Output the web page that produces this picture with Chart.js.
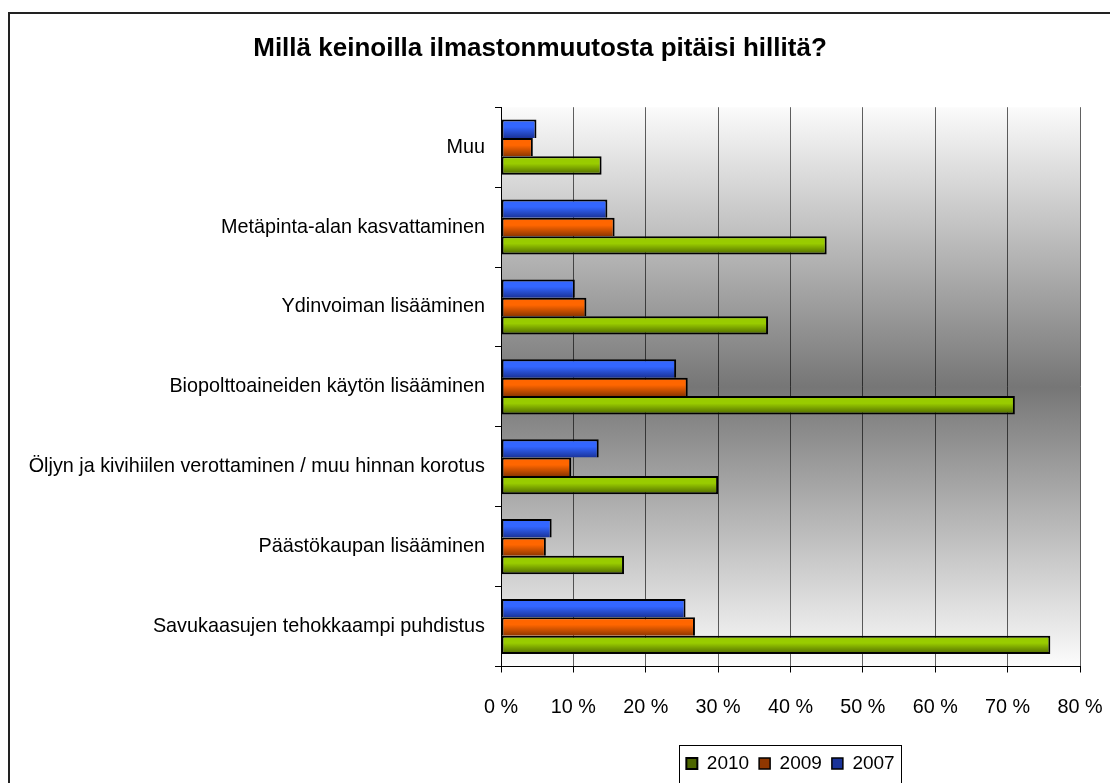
<!DOCTYPE html>
<html>
<head>
<meta charset="utf-8">
<script src="https://cdn.jsdelivr.net/npm/chart.js@4.4.1/dist/chart.umd.min.js"></script>
<style>
  html, body { margin: 0; padding: 0; background: #fff; overflow: hidden; }
  #frame { position: absolute; left: 8px; top: 12px; width: 1200px; height: 900px; border: 2px solid #222; }
  #wrap { position: absolute; left: 0; top: 0; width: 1110px; height: 783px; }
</style>
</head>
<body>
<div id="frame"></div>
<div id="wrap"><canvas id="chart"></canvas></div>
<script>
// categories, top to bottom as in the picture
const categories = [
  'Muu',
  'Metäpinta-alan kasvattaminen',
  'Ydinvoiman lisääminen',
  'Biopolttoaineiden käytön lisääminen',
  'Öljyn ja kivihiilen verottaminen / muu hinnan korotus',
  'Päästökaupan lisääminen',
  'Savukaasujen tehokkaampi puhdistus'
];
const values2007 = [4.9, 14.7, 10.2, 24.2, 13.5, 7.0, 25.5];
const values2009 = [4.4, 15.7, 11.8, 25.8, 9.7, 6.2, 26.8];
const values2010 = [13.9, 45.0, 36.9, 71.0, 30.0, 17.0, 75.9];
const xTickLabels = ['0 %', '10 %', '20 %', '30 %', '40 %', '50 %', '60 %', '70 %', '80 %'];

const FONT = "'Liberation Sans', Arial, sans-serif";
const CAT_PCT = 0.69;

// light top / dark bottom, like the old excel bars
function barFill(light, dark, slot) {
  return ctx => {
    const chart = ctx.chart;
    const y = chart.scales.y;
    if (ctx.dataIndex === undefined || !y) return light;
    const cat = (y.bottom - y.top) / categories.length;
    const thick = cat * CAT_PCT / 3;
    const top = y.getPixelForValue(ctx.dataIndex) - cat * CAT_PCT / 2 + slot * thick;
    const g = chart.ctx.createLinearGradient(0, top, 0, top + thick);
    g.addColorStop(0, light);
    g.addColorStop(0.4, light);
    g.addColorStop(1, dark);
    return g;
  };
}

const plotBg = {
  id: 'plotBg',
  beforeDraw(chart) {
    const { ctx, chartArea: a } = chart;
    const g = ctx.createLinearGradient(0, a.top, 0, a.bottom);
    g.addColorStop(0, '#fbfbfb');
    g.addColorStop(0.5, '#767676');
    g.addColorStop(1, '#fcfcfc');
    ctx.save();
    ctx.fillStyle = g;
    ctx.fillRect(a.left, a.top, a.right - a.left, a.bottom - a.top);
    ctx.restore();
  }
};

const legendFrame = {
  id: 'legendFrame',
  afterDraw(chart) {
    const boxes = chart.legend.legendHitBoxes;
    if (!boxes || !boxes.length) return;
    const l = Math.min(...boxes.map(b => b.left));
    const r = Math.max(...boxes.map(b => b.left + b.width));
    const ctx = chart.ctx;
    ctx.save();
    ctx.strokeStyle = '#000';
    ctx.lineWidth = 1;
    ctx.strokeRect(Math.round(l - 7) + 0.5, Math.round(chart.legend.top + 1) + 0.5, Math.round(r - l + 14), 100);
    ctx.restore();
  }
};

const edge = { top: 2, right: 2, bottom: 0, left: 2 };

new Chart(document.getElementById('chart'), {
  type: 'bar',
  data: {
    labels: categories,
    datasets: [
      { label: '2007', data: values2007, backgroundColor: barFill('#3366ff', '#1a3399', 0), borderColor: '#000', borderWidth: edge, borderSkipped: false },
      { label: '2009', data: values2009, backgroundColor: barFill('#ff6600', '#8f3700', 1), borderColor: '#000', borderWidth: edge, borderSkipped: false },
      { label: '2010', data: values2010, backgroundColor: barFill('#99cc00', '#4d6600', 2), borderColor: '#000', borderWidth: { top: 2, right: 2, bottom: 2, left: 2 }, borderSkipped: false }
    ]
  },
  options: {
    indexAxis: 'y',
    responsive: true,
    maintainAspectRatio: false,
    animation: false,
    datasets: { bar: { categoryPercentage: CAT_PCT, barPercentage: 1 } },
    layout: { padding: { left: 0, right: 30, top: 0, bottom: 0 } },
    plugins: {
      title: {
        display: true,
        text: 'Millä keinoilla ilmastonmuutosta pitäisi hillitä?',
        color: '#000',
        font: { family: FONT, size: 26, weight: 'bold' },
        padding: { top: 33, bottom: 43 }
      },
      legend: {
        position: 'bottom',
        fullSize: false,
        reverse: true,
        labels: {
          color: '#000',
          font: { family: FONT, size: 19 },
          boxWidth: 11,
          boxHeight: 11,
          padding: 10
        }
      },
      tooltip: { enabled: false }
    },
    scales: {
      x: {
        min: 0,
        max: 80,
        ticks: {
          stepSize: 10,
          color: '#000',
          font: { family: FONT, size: 19.8 },
          padding: 23,
          maxRotation: 0,
          callback: (v, i) => xTickLabels[i]
        },
        grid: { color: 'rgba(0,0,0,0.62)', tickColor: '#000', tickLength: 6 },
        border: { color: '#000', width: 1 },
        afterFit: s => { s.height = 77.5; s.paddingLeft = 0; s.paddingRight = 0; }
      },
      y: {
        ticks: { color: '#000', font: { family: FONT, size: 19.8 }, padding: 10 },
        grid: { drawOnChartArea: false, tickColor: '#000', tickLength: 6 },
        border: { color: '#000', width: 1 },
        afterFit: s => { s.width = 501; }
      }
    }
  },
  plugins: [plotBg, legendFrame]
});
</script>
</body>
</html>
